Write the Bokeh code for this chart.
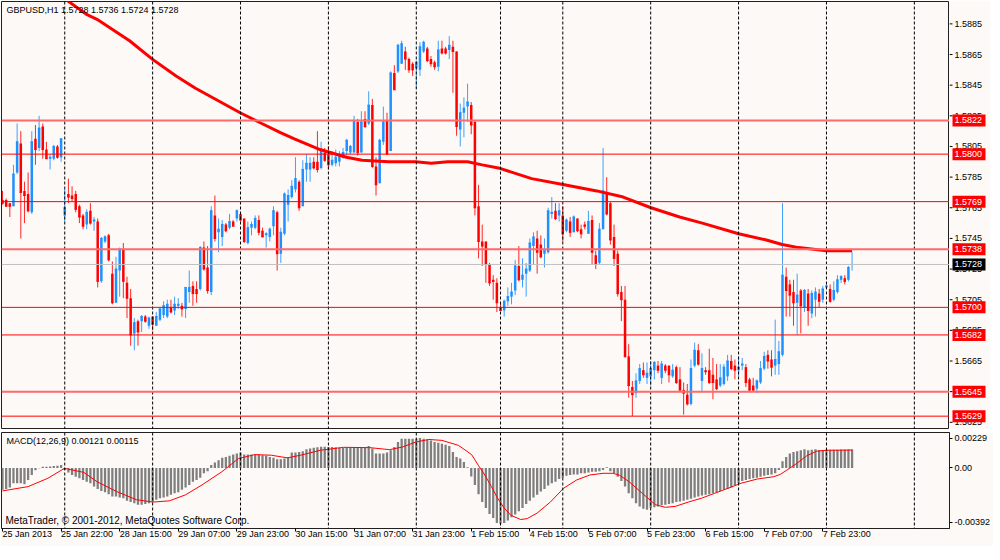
from bokeh.plotting import figure
from bokeh.models import Range1d, FixedTicker, Span, Label, ColumnDataSource
from bokeh.layouts import column, row
from bokeh.core.properties import value
from bokeh.embed import file_html
from bokeh.resources import INLINE

# ---------------- data (prices in pips: 15728 -> 1.5728) ----------------
open_pips = [
    15770, 15770, 15768, 15766, 15788, 15807, 15776, 15774, 15762, 15810,
    15804, 15818, 15803, 15797, 15797, 15805, 15798, 15760, 15774, 15773,
    15774, 15766, 15760, 15754, 15763, 15756, 15756, 15717, 15743, 15747,
    15722, 15703, 15724, 15738, 15716, 15706, 15683, 15691, 15691, 15694,
    15688, 15694, 15688, 15692, 15695, 15694, 15700, 15698, 15701, 15701,
    15699, 15710, 15714, 15712, 15712, 15739, 15726, 15710, 15760, 15749,
    15746, 15754, 15752, 15756, 15758, 15761, 15758, 15742, 15752, 15752,
    15757, 15750, 15747, 15746, 15753, 15762, 15735, 15748, 15767, 15772,
    15777, 15782, 15766, 15790, 15790, 15795, 15795, 15791, 15801, 15800,
    15793, 15794, 15795, 15798, 15802, 15801, 15801, 15821, 15801, 15823,
    15820, 15832, 15792, 15781, 15808, 15822, 15802, 15853, 15854, 15859,
    15867, 15862, 15859, 15856, 15855, 15867, 15869, 15862, 15860, 15857,
    15869, 15869, 15868, 15870, 15867, 15816, 15827, 15831, 15832, 15821,
    15766, 15743, 15743, 15728, 15718, 15716, 15700, 15698, 15704, 15707,
    15711, 15727, 15718, 15722, 15724, 15740, 15745, 15741, 15735, 15736,
    15761, 15763, 15760, 15760, 15750, 15756, 15749, 15758, 15751, 15754,
    15748, 15757, 15734, 15729, 15751, 15775, 15768, 15746, 15735, 15710,
    15705, 15668, 15648, 15644, 15652, 15659, 15654, 15655, 15659, 15662,
    15654, 15662, 15662, 15655, 15661, 15653, 15646, 15643, 15637, 15662,
    15672, 15652, 15659, 15659, 15656, 15653, 15649, 15650, 15655, 15665,
    15662, 15659, 15662, 15661, 15653, 15649, 15647, 15651, 15660, 15669,
    15666, 15662, 15663, 15669, 15720, 15715, 15710, 15703, 15711, 15700,
    15709, 15696, 15705, 15709, 15705, 15713, 15712, 15705, 15710, 15718,
    15719, 15718, 15728,
]
high_pips = [
    15776, 15771, 15768, 15793, 15820, 15815, 15782, 15788, 15815, 15819,
    15825, 15820, 15808, 15800, 15806, 15806, 15810, 15777, 15784, 15779,
    15776, 15767, 15761, 15764, 15768, 15759, 15758, 15746, 15747, 15748,
    15730, 15733, 15739, 15742, 15720, 15712, 15693, 15692, 15695, 15695,
    15694, 15694, 15697, 15700, 15704, 15705, 15705, 15707, 15706, 15703,
    15713, 15724, 15717, 15717, 15740, 15743, 15740, 15766, 15773, 15758,
    15757, 15755, 15761, 15757, 15764, 15762, 15758, 15756, 15756, 15760,
    15760, 15752, 15749, 15752, 15766, 15763, 15752, 15775, 15777, 15783,
    15798, 15783, 15796, 15800, 15798, 15798, 15815, 15808, 15804, 15805,
    15802, 15803, 15802, 15804, 15810, 15806, 15825, 15823, 15828, 15828,
    15841, 15836, 15798, 15810, 15831, 15827, 15854, 15858, 15872, 15874,
    15870, 15863, 15860, 15861, 15873, 15874, 15870, 15864, 15861, 15874,
    15874, 15870, 15877, 15874, 15867, 15833, 15837, 15846, 15834, 15822,
    15780, 15754, 15743, 15729, 15721, 15719, 15703, 15705, 15713, 15716,
    15731, 15740, 15732, 15729, 15745, 15749, 15750, 15747, 15745, 15765,
    15772, 15768, 15768, 15766, 15758, 15759, 15760, 15758, 15754, 15756,
    15763, 15760, 15737, 15755, 15804, 15785, 15769, 15754, 15737, 15714,
    15714, 15676, 15652, 15657, 15663, 15664, 15664, 15665, 15665, 15665,
    15665, 15663, 15662, 15663, 15662, 15661, 15651, 15650, 15666, 15677,
    15676, 15670, 15661, 15673, 15667, 15663, 15663, 15663, 15669, 15669,
    15666, 15668, 15667, 15663, 15654, 15654, 15653, 15665, 15671, 15672,
    15672, 15692, 15678, 15768, 15726, 15718, 15718, 15722, 15712, 15712,
    15712, 15711, 15713, 15712, 15714, 15715, 15715, 15717, 15721, 15721,
    15721, 15727, 15736,
]
low_pips = [
    15767, 15766, 15759, 15766, 15787, 15745, 15755, 15762, 15761, 15793,
    15802, 15797, 15797, 15790, 15796, 15797, 15795, 15756, 15768, 15769,
    15762, 15755, 15751, 15751, 15754, 15750, 15713, 15716, 15742, 15730,
    15702, 15703, 15707, 15706, 15693, 15675, 15672, 15675, 15684, 15690,
    15686, 15685, 15688, 15691, 15693, 15693, 15696, 15695, 15699, 15694,
    15693, 15703, 15701, 15703, 15711, 15724, 15709, 15708, 15743, 15736,
    15740, 15749, 15751, 15753, 15756, 15756, 15742, 15741, 15747, 15751,
    15747, 15746, 15739, 15743, 15747, 15724, 15729, 15747, 15756, 15771,
    15775, 15763, 15766, 15782, 15782, 15790, 15788, 15790, 15795, 15790,
    15792, 15792, 15792, 15797, 15799, 15800, 15801, 15799, 15801, 15817,
    15819, 15791, 15773, 15781, 15806, 15800, 15802, 15842, 15853, 15859,
    15855, 15853, 15851, 15843, 15851, 15866, 15860, 15857, 15855, 15854,
    15865, 15865, 15862, 15840, 15812, 15805, 15811, 15821, 15813, 15760,
    15732, 15727, 15716, 15714, 15705, 15697, 15698, 15694, 15701, 15702,
    15708, 15717, 15713, 15707, 15723, 15728, 15722, 15732, 15726, 15735,
    15758, 15757, 15756, 15743, 15749, 15746, 15749, 15749, 15745, 15751,
    15748, 15728, 15725, 15728, 15751, 15760, 15741, 15727, 15707, 15691,
    15667, 15641, 15629, 15641, 15650, 15654, 15650, 15649, 15653, 15657,
    15650, 15657, 15651, 15654, 15650, 15645, 15630, 15636, 15636, 15661,
    15662, 15645, 15656, 15650, 15640, 15646, 15648, 15649, 15652, 15659,
    15653, 15655, 15659, 15648, 15645, 15645, 15644, 15650, 15659, 15660,
    15655, 15656, 15656, 15668, 15694, 15694, 15688, 15682, 15683, 15697,
    15688, 15693, 15694, 15700, 15703, 15712, 15703, 15704, 15709, 15716,
    15715, 15717, 15724,
]
close_pips = [
    15768, 15766, 15766, 15787, 15808, 15775, 15773, 15763, 15808, 15803,
    15817, 15803, 15797, 15798, 15805, 15798, 15810, 15765, 15772, 15771,
    15764, 15759, 15753, 15762, 15755, 15757, 15717, 15745, 15746, 15731,
    15703, 15725, 15738, 15717, 15706, 15682, 15690, 15684, 15694, 15691,
    15693, 15689, 15694, 15699, 15701, 15702, 15697, 15702, 15702, 15699,
    15713, 15713, 15709, 15709, 15739, 15725, 15711, 15763, 15745, 15751,
    15754, 15750, 15756, 15753, 15763, 15757, 15743, 15752, 15754, 15758,
    15749, 15746, 15748, 15751, 15763, 15735, 15749, 15774, 15773, 15779,
    15784, 15765, 15790, 15794, 15794, 15791, 15790, 15803, 15796, 15793,
    15796, 15798, 15799, 15801, 15809, 15805, 15822, 15801, 15821, 15818,
    15832, 15792, 15780, 15809, 15821, 15800, 15853, 15842, 15871, 15872,
    15862, 15855, 15855, 15860, 15870, 15873, 15861, 15859, 15857, 15868,
    15866, 15866, 15871, 15867, 15818, 15827, 15830, 15834, 15819, 15765,
    15743, 15740, 15728, 15716, 15717, 15703, 15698, 15704, 15707, 15710,
    15727, 15718, 15721, 15725, 15742, 15746, 15736, 15733, 15737, 15763,
    15762, 15758, 15763, 15748, 15757, 15749, 15759, 15750, 15748, 15753,
    15756, 15736, 15728, 15751, 15776, 15761, 15744, 15732, 15709, 15705,
    15668, 15649, 15643, 15652, 15660, 15656, 15657, 15660, 15664, 15659,
    15663, 15659, 15656, 15659, 15651, 15646, 15644, 15637, 15660, 15672,
    15663, 15660, 15658, 15651, 15651, 15647, 15654, 15661, 15665, 15660,
    15659, 15661, 15663, 15651, 15646, 15646, 15652, 15660, 15668, 15665,
    15661, 15666, 15671, 15721, 15711, 15708, 15703, 15708, 15701, 15711,
    15698, 15709, 15710, 15704, 15712, 15714, 15704, 15711, 15718, 15720,
    15717, 15726, 15728,
]

# moving average (bar position, pips)
ma_bar = [15, 17.8, 23.1, 25.8, 34.7, 40.9, 47.4, 52.7, 64.9, 70.8, 75.9, 79.7,
          86.7, 93.9, 98.2, 105.5, 112.8, 117.1, 121.6, 127, 131, 135.4, 144.5,
          153.4, 162.3, 169.5, 177.1, 184.9, 191.1, 201, 208.6, 212.9, 217.4,
          225, 232]
ma_pips = [15905, 15900, 15891, 15888, 15874, 15862, 15851, 15843, 15827, 15820,
           15814, 15810, 15803, 15798, 15796, 15795, 15795, 15794, 15795, 15795,
           15793, 15791, 15784, 15780, 15776, 15772, 15765, 15759, 15755, 15748,
           15744, 15741, 15739, 15737, 15737]

# MACD histogram (units of 0.00001)
macd_hist = [
    -142, -136, -127, -100, -100, -100, -106, -78, -46, -15,
    -3, 7, 7, 9, 12, 14, 18, -14, -29, -46,
    -57, -67, -78, -89, -100, -121, -136, -149, -157, -170,
    -185, -185, -191, -196, -213, -221, -228, -238, -238, -234,
    -228, -221, -206, -196, -191, -185, -174, -164, -157, -142,
    -127, -110, -89, -78, -63, -35, -21, 18, 35, 50,
    65, 71, 78, 86, 93, 99, 86, 86, 86, 86,
    86, 82, 78, 71, 65, 56, 56, 61, 71, 99,
    99, 103, 108, 120, 125, 131, 133, 137, 137, 135,
    135, 133, 131, 131, 131, 131, 131, 131, 131, 131,
    142, 125, 93, 93, 93, 99, 114, 135, 167, 189,
    189, 189, 189, 189, 193, 189, 184, 178, 167, 163,
    157, 150, 142, 103, 71, 61, 38, 5, -55, -110,
    -170, -221, -260, -298, -324, -356, -362, -356, -341, -319,
    -302, -281, -260, -234, -213, -191, -174, -153, -136, -114,
    -100, -89, -72, -63, -50, -46, -42, -42, -35, -35,
    -29, -25, -25, -21, -14, 5, -21, -35, -57, -85,
    -121, -164, -196, -228, -249, -264, -270, -260, -255, -249,
    -242, -238, -234, -228, -221, -217, -213, -206, -200, -191,
    -185, -178, -174, -170, -164, -157, -149, -142, -136, -127,
    -114, -100, -85, -78, -72, -67, -63, -57, -50, -46,
    -42, -35, -14, 43, 71, 93, 103, 108, 114, 120,
    114, 118, 120, 116, 116, 117, 117, 118, 118, 119,
    119, 120, 121,
]
# MACD signal line (bar position, units of 0.00001)
sig_bar = [0, 7, 12.4, 16.9, 22.2, 25.8, 31.2, 36.6, 41.1, 45.6, 50, 54.5, 59.9,
           64.4, 68.9, 73.4, 77.8, 81.4, 86.8, 93.1, 100.3, 105.7, 109.2, 112.8,
           116.4, 120, 124.5, 128.1, 129.9, 131.7, 133.5, 135.2, 137, 138.8,
           141.5, 143.3, 146, 149.6, 153.2, 156.8, 160.4, 164, 166.6, 168.4,
           171.1, 174.7, 178.3, 181, 183.7, 187.3, 190.9, 194.5, 198.1, 201.7,
           206.1, 210.6, 212.4, 214.2, 216.9, 219.6, 222.3, 225, 232]
sig_val = [-149, -121, -67, -3, -29, -89, -153, -206, -221, -213, -174, -110, -25,
           60, 86, 82, 65, 82, 114, 133, 131, 118, 135, 167,
           184, 178, 146, 86, 18, -46, -121, -196, -260, -306,
           -334, -328, -292, -221, -132, -78, -46, -35, -35, -46,
           -89, -164, -238, -255, -249, -221, -196, -164, -132, -99,
           -72, -57, -42, -14, 29, 78, 108, 114, 115]

time_tick_bars = [0, 16, 32, 48, 64, 80, 96, 112, 128, 144, 160, 176, 192, 208, 224]
time_tick_labels = ["25 Jan 2013", "25 Jan 22:00", "28 Jan 15:00", "29 Jan 07:00",
                    "29 Jan 23:00", "30 Jan 15:00", "31 Jan 07:00", "31 Jan 23:00",
                    "1 Feb 15:00", "4 Feb 15:00", "5 Feb 07:00", "5 Feb 23:00",
                    "6 Feb 15:00", "7 Feb 07:00", "7 Feb 23:00"]
grid_bars = [17, 41, 65, 89, 113, 136, 153, 177, 201, 225, 249]
price_ticks = [1.5885, 1.5865, 1.5845, 1.5825, 1.5805, 1.5785, 1.5765, 1.5745,
               1.5725, 1.5705, 1.5685, 1.5665, 1.5645, 1.5625]
level_prices = [1.5822, 1.5800, 1.5769, 1.5738, 1.5700, 1.5682, 1.5645, 1.5629]
level_soft = [True, False, False, True, False, False, True, False]
bid_price = 1.5728
header_text = "GBPUSD,H1  1.5728 1.5736 1.5724 1.5728"
macd_text = "MACD(12,26,9) 0.00121 0.00115"
copyright_text = "MetaTrader, \u00a9 2001-2012, MetaQuotes Software Corp."

# ---------------- styling ----------------
BG = "#FCF9F7"
FONT = "Liberation Sans"
BULL = "#1E90FF"
BEAR = "#FF0000"
X0, X1 = -0.27, 258.6
FW = 948
FH = 428
SIDE = 41

n = len(close_pips)
xs = list(range(n))
o = [v / 10000 for v in open_pips]
h = [v / 10000 for v in high_pips]
l = [v / 10000 for v in low_pips]
c = [v / 10000 for v in close_pips]
col = [BULL if cc >= oo else BEAR for oo, cc in zip(o, c)]
src = ColumnDataSource(dict(
    x=xs, o=o, h=h, l=l, c=c, color=col,
    top=[max(a, b) for a, b in zip(o, c)],
    bottom=[min(a, b) for a, b in zip(o, c)],
    xl=[x - 0.34 for x in xs], xr=[x + 0.34 for x in xs],
))

xr = Range1d(X0, X1)
yr = Range1d(1.56203, 1.58996)
p1 = figure(frame_width=FW, frame_height=FH, x_range=xr, y_range=yr,
            output_backend="svg", toolbar_location=None,
            x_axis_location=None, y_axis_location=None,
            min_border_left=1, min_border_top=1, min_border_bottom=0,
            min_border_right=0)
p1.background_fill_color = BG
p1.border_fill_color = BG
p1.outline_line_color = "#202020"
p1.xgrid.visible = False
p1.ygrid.visible = False

for gb in grid_bars:
    p1.add_layout(Span(location=gb, dimension="height", line_color="black",
                       line_dash="3 2", line_width=1))
p1.add_layout(Span(location=bid_price, dimension="width", line_color="#C0C0C0",
                   line_width=1))
for lv, soft in zip(level_prices, level_soft):
    p1.add_layout(Span(location=lv, dimension="width",
                       line_color="#FF6A6A" if soft else "#FF0000",
                       line_width=2 if soft else 1))

p1.segment(x0="x", y0="l", x1="x", y1="h", line_color="color", line_width=1,
           line_alpha=0.85, source=src)
p1.vbar(x="x", width=0.68, top="top", bottom="bottom", fill_color="color",
        line_color=None, source=src)
p1.segment(x0="xl", y0="c", x1="xr", y1="c", line_color="color", line_width=1,
           source=src)

p1.line(ma_bar, [v / 10000 for v in ma_pips], line_color="#FF0000", line_width=3)

p1.add_layout(Label(x=X0, y=yr.end, text=header_text, x_offset=5, y_offset=-3,
                    text_font=FONT, text_font_size="9px", text_color="black",
                    text_baseline="top", text_align="left"))

# price scale panel
ps = figure(frame_width=SIDE, frame_height=FH, x_range=Range1d(0, SIDE), y_range=yr,
            output_backend="svg", toolbar_location=None,
            x_axis_location=None, y_axis_location=None,
            min_border_left=0, min_border_top=1, min_border_bottom=0,
            min_border_right=0)
ps.background_fill_color = BG
ps.border_fill_color = BG
ps.outline_line_color = None
ps.xgrid.visible = False
ps.ygrid.visible = False
ps.segment(x0=[0] * len(price_ticks), x1=[3] * len(price_ticks), y0=price_ticks,
           y1=price_ticks, line_color="black", line_width=1)
ps.text(x=[5] * len(price_ticks), y=price_ticks,
        text=[f"{t:.4f}" for t in price_ticks], text_font=value(FONT),
        text_font_size=value("9px"), text_color="black", text_baseline="middle",
        text_align="left")
box_prices = level_prices + [bid_price]
box_colors = ["#FF0000"] * len(level_prices) + ["#000000"]
ps.rect(x=[19.5] * len(box_prices), y=box_prices, width=33, height=12,
        height_units="screen", fill_color=box_colors, line_color=None)
ps.text(x=[5] * len(box_prices), y=box_prices,
        text=[f"{t:.4f}" for t in box_prices], text_font=value(FONT),
        text_font_size=value("9px"), text_color="white", text_baseline="middle",
        text_align="left")

# separator band between the two panels
sep = figure(frame_width=FW, frame_height=3, x_range=xr, y_range=Range1d(0, 1),
             output_backend="svg", toolbar_location=None,
             x_axis_location=None, y_axis_location=None,
             min_border_left=1, min_border_top=0, min_border_bottom=0,
             min_border_right=0)
sep.background_fill_color = "#8C8C8C"
sep.border_fill_color = BG
sep.outline_line_color = None
sep.xgrid.visible = False
sep.ygrid.visible = False

# MACD panel
p2 = figure(frame_width=FW, frame_height=96, x_range=xr,
            y_range=Range1d(-0.00392, 0.00229), output_backend="svg",
            toolbar_location=None, y_axis_location="right",
            min_border_left=1, min_border_top=0, min_border_bottom=0,
            min_border_right=0)
p2.background_fill_color = BG
p2.border_fill_color = BG
p2.outline_line_color = "#202020"
p2.xgrid.visible = False
p2.ygrid.visible = False
ay = p2.yaxis[0]
ay.ticker = FixedTicker(ticks=[0.00191, 0.0, -0.00353])
ay.major_label_overrides = {0.00191: "0.00229", 0.0: "0.00", -0.00353: "-0.00392"}
ax2 = p2.xaxis[0]
ax2.ticker = FixedTicker(ticks=time_tick_bars)
ax2.major_label_overrides = {b: t for b, t in zip(time_tick_bars, time_tick_labels)}
ax2.major_label_orientation = -0.0001
for a in (ay, ax2):
    a.major_label_text_font = FONT
    a.major_label_text_font_size = "9px"
    a.major_label_text_color = "black"
    a.major_tick_out = 3
    a.major_tick_in = 0
    a.minor_tick_out = 0
    a.minor_tick_in = 0
    a.major_label_standoff = 2
    a.axis_line_color = "#202020"

for gb in grid_bars:
    p2.add_layout(Span(location=gb, dimension="height", line_color="black",
                       line_dash="3 2", line_width=1))
p2.vbar(x=xs, width=0.62, top=[v / 100000 for v in macd_hist], bottom=0,
        fill_color="#7F7F7F", line_color=None)
p2.line(sig_bar, [v / 100000 for v in sig_val], line_color="#FF0000", line_width=1)
p2.add_layout(Label(x=X0, y=0.00229, text=macd_text, x_offset=5, y_offset=-3,
                    text_font=FONT, text_font_size="9px", text_color="black",
                    text_baseline="top", text_align="left"))
p2.add_layout(Label(x=X0, y=-0.00392, text=copyright_text, x_offset=4, y_offset=3,
                    text_font=FONT, text_font_size="10px", text_color="black",
                    text_baseline="bottom", text_align="left"))

layout = column(row(p1, ps, spacing=0), sep, p2, spacing=0)
open("out.html", "w").write(file_html(layout, INLINE))
